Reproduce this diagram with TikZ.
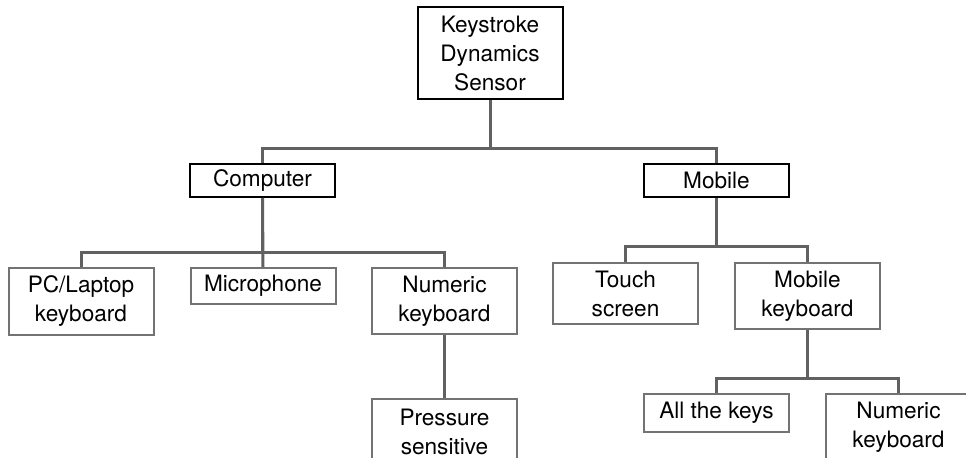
\documentclass[tikz,border=0pt]{standalone}
\usepackage{fontspec}
\setmainfont{TeX Gyre Heros}

\begin{document}
\begin{tikzpicture}[x=0.5pt, y=-0.5pt,
  mainbox/.style={draw=black, line width=1pt, minimum width=\boxwidth, align=center, anchor=north, inner sep=2pt, font=\fontsize{11.3}{14.5}\selectfont},
  subbox/.style={mainbox, draw=black!55},
  link/.style={draw=black!62, line width=1.5pt}]

% Define dimensions
\def\boxwidth{72.5pt}
\def\drop{49}

% Fix the page
\clip (0,0) rectangle (966,458);

% Draw top level boxes
\node[mainbox, minimum height=46pt] (sensor) at (490,6) {Keystroke\\Dynamics\\Sensor};
\node[mainbox, minimum height=16.5pt] (computer) at (262.5,163) {Computer};
\node[mainbox, minimum height=16.5pt] (mobile) at (716.5,163) {Mobile};

% Draw computer branch
\node[subbox, minimum height=33.5pt] (pclaptop) at (81,267) {PC/Laptop\\keyboard};
\node[subbox, minimum height=18pt] (microphone) at (263,267) {Microphone};
\node[subbox, minimum height=33pt] (numericpc) at (444.5,267) {Numeric\\keyboard};
\node[subbox, minimum height=33pt] (pressure) at (444.5,398) {Pressure\\sensitive};

% Draw mobile branch
\node[subbox, minimum height=30.5pt] (touch) at (625.5,262) {Touch\\screen};
\node[subbox, minimum height=33pt] (mobilekb) at (807.5,262) {Mobile\\keyboard};
\node[subbox, minimum height=19pt] (allkeys) at (716.5,393) {All the keys};
\node[subbox, minimum height=33pt] (numericmob) at (898.5,393) {Numeric\\keyboard};

% Connect the tree
\draw[link] (sensor.south) -- ++(0,\drop) -| (computer.north);
\draw[link] (sensor.south) -- ++(0,\drop) -| (mobile.north);
\draw[link] (computer.south) -- ++(0,55) -| (pclaptop.north);
\draw[link] (computer.south) -- (microphone.north);
\draw[link] (computer.south) -- ++(0,55) -| (numericpc.north);
\draw[link] (numericpc.south) -- (pressure.north);
\draw[link] (mobile.south) -- ++(0,\drop) -| (touch.north);
\draw[link] (mobile.south) -- ++(0,\drop) -| (mobilekb.north);
\draw[link] (mobilekb.south) -- ++(0,\drop) -| (allkeys.north);
\draw[link] (mobilekb.south) -- ++(0,\drop) -| (numericmob.north);
\end{tikzpicture}
\end{document}
